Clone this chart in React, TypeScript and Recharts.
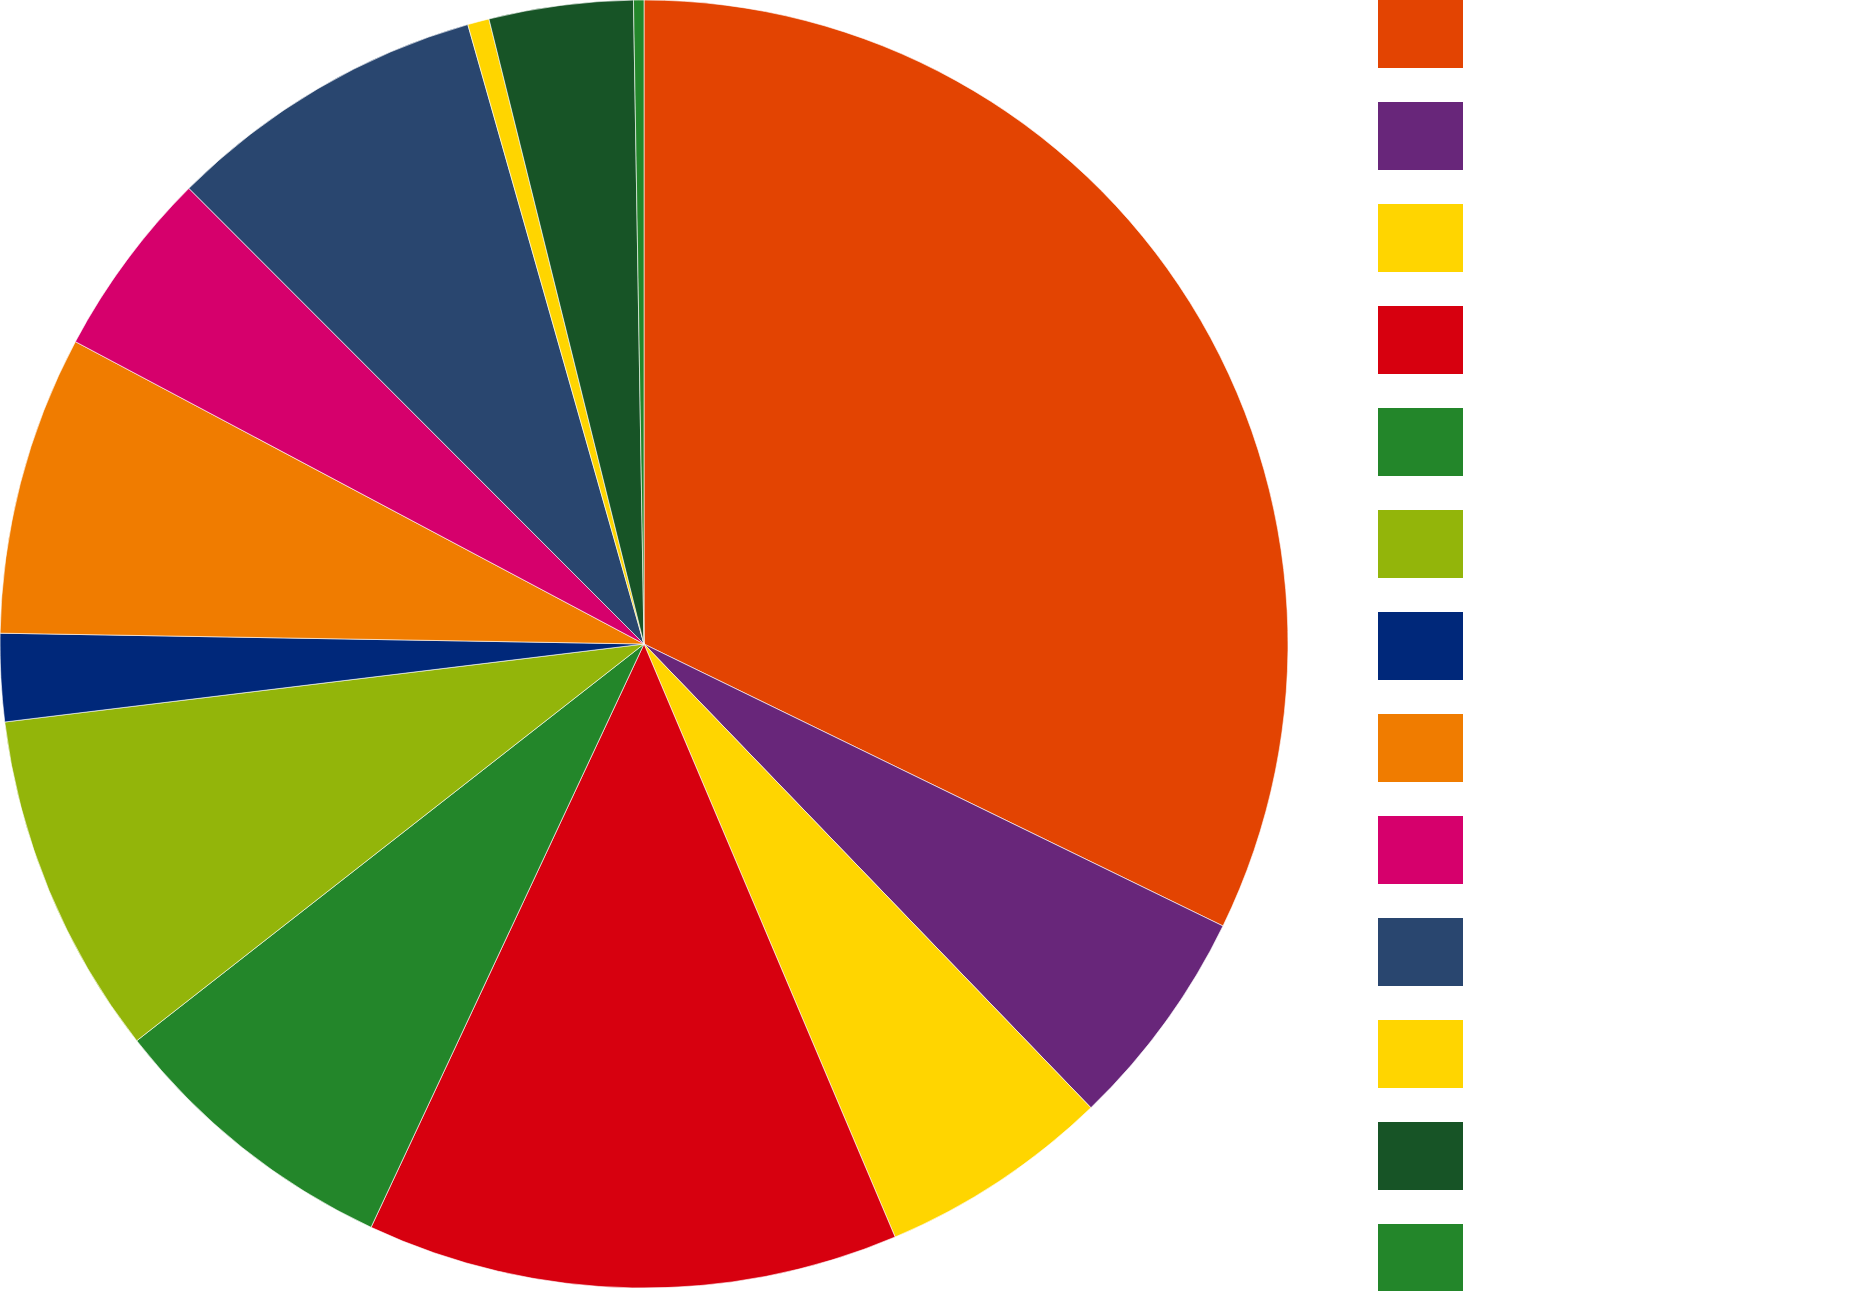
import React from 'react';
import { PieChart, Pie, Cell, Legend } from 'recharts';

const categories = ['A', 'B', 'C', 'D', 'E', 'F', 'G', 'H', 'I', 'J', 'K', 'L', 'M'];
const values = [32.21, 5.58, 5.83, 13.34, 7.47, 8.63, 2.2, 7.51, 4.73, 8.08, 0.54, 3.61, 0.26];
const colors = [
  '#E34402', '#68267A', '#FFD500', '#D7000F', '#23862A', '#93B50A', '#00287A',
  '#F07C00', '#D6006C', '#29466F', '#FFD500', '#175426', '#23862A',
];

const data = categories.map((name, i) => ({ name, value: values[i] }));

const renderLegend = (props: any) => {
  const payload = props.payload || [];
  return (
    <div style={{ display: 'flex', flexDirection: 'column' }}>
      {payload.map((entry: any, i: number) => (
        <div
          key={i}
          style={{
            width: 85,
            height: 68,
            marginBottom: i === payload.length - 1 ? 0 : 34,
            background: entry.color,
          }}
        />
      ))}
    </div>
  );
};

export default function App() {
  return (
    <div style={{ position: 'absolute', left: 0, top: 0, width: 1858, height: 1291, background: '#fff' }}>
      <PieChart width={1858} height={1291} margin={{ top: 0, right: 0, bottom: 0, left: 0 }}>
        <Pie
          data={data}
          dataKey="value"
          nameKey="name"
          cx={644}
          cy={644}
          outerRadius={644}
          innerRadius={0}
          startAngle={90}
          endAngle={-270}
          stroke="#ffffff"
          strokeWidth={0.6}
          isAnimationActive={false}
          legendType="square"
        >
          {data.map((d, i) => (
            <Cell key={d.name} fill={colors[i]} />
          ))}
        </Pie>
        <Legend
          layout="vertical"
          align="right"
          verticalAlign="top"
          content={renderLegend}
          wrapperStyle={{ position: 'absolute', left: 1378, top: 0, width: 85 }}
        />
      </PieChart>
    </div>
  );
}
